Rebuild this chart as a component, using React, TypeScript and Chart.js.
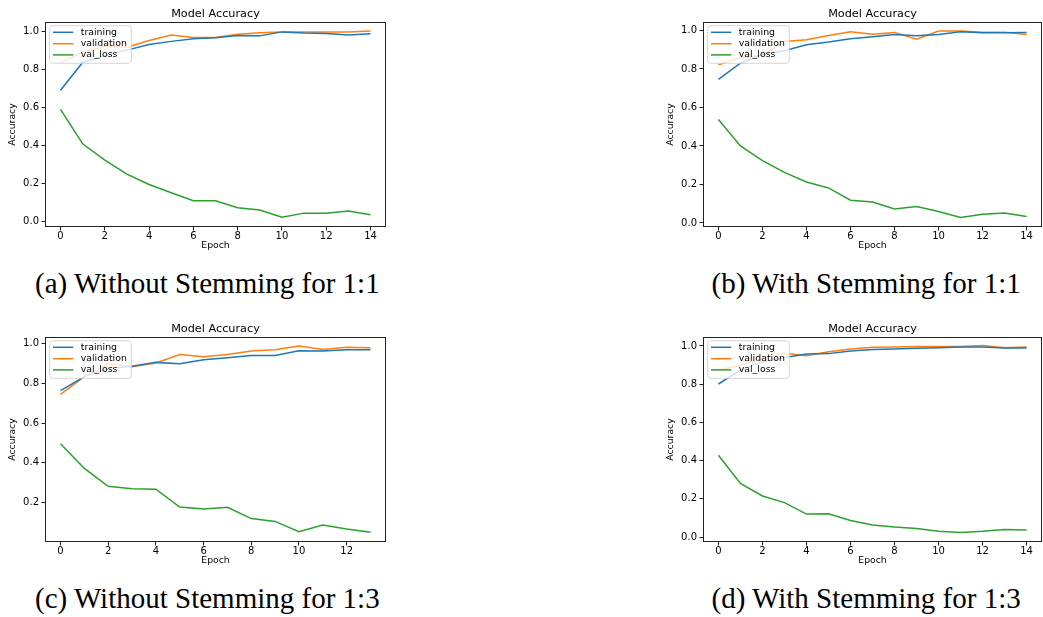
import React, { useEffect, useRef } from "react";
import { Chart, registerables } from "chart.js";

Chart.register(...registerables);

// ---------- data ----------
const epochs15 = [0, 1, 2, 3, 4, 5, 6, 7, 8, 9, 10, 11, 12, 13, 14];
const epochs14 = [0, 1, 2, 3, 4, 5, 6, 7, 8, 9, 10, 11, 12, 13];

const xTicks15 = [0, 2, 4, 6, 8, 10, 12, 14];
const xTicks14 = [0, 2, 4, 6, 8, 10, 12];
const yTicksFull = [0, 0.2, 0.4, 0.6, 0.8, 1.0];
const yTicksC = [0.2, 0.4, 0.6, 0.8, 1.0];

const seriesNames = ["training", "validation", "val_loss"];
const seriesColors = ["#1f77b4", "#ff7f0e", "#2ca02c"];

const trainA = [0.689, 0.835, 0.87, 0.9, 0.93, 0.946, 0.96, 0.965, 0.977, 0.975, 0.996, 0.99, 0.988, 0.98, 0.986];
const valA = [0.837, 0.888, 0.92, 0.915, 0.951, 0.979, 0.967, 0.967, 0.984, 0.991, 0.996, 0.995, 0.996, 0.995, 1.0];
const lossA = [0.588, 0.407, 0.321, 0.247, 0.193, 0.149, 0.107, 0.107, 0.07, 0.058, 0.021, 0.042, 0.042, 0.053, 0.033];

const trainB = [0.746, 0.83, 0.875, 0.895, 0.926, 0.94, 0.957, 0.967, 0.979, 0.972, 0.979, 0.993, 0.988, 0.988, 0.99];
const valB = [0.822, 0.86, 0.87, 0.943, 0.952, 0.974, 0.993, 0.981, 0.99, 0.955, 0.997, 0.997, 0.991, 0.991, 0.979];
const lossB = [0.538, 0.4, 0.324, 0.263, 0.213, 0.182, 0.118, 0.109, 0.073, 0.085, 0.059, 0.029, 0.045, 0.052, 0.033];

const trainC = [0.763, 0.834, 0.876, 0.887, 0.906, 0.899, 0.919, 0.929, 0.941, 0.941, 0.965, 0.963, 0.97, 0.97];
const valC = [0.745, 0.834, 0.899, 0.884, 0.903, 0.946, 0.934, 0.946, 0.963, 0.97, 0.988, 0.971, 0.982, 0.98];
const lossC = [0.496, 0.371, 0.281, 0.269, 0.266, 0.176, 0.166, 0.175, 0.118, 0.104, 0.052, 0.086, 0.066, 0.049];

const trainD = [0.801, 0.874, 0.918, 0.94, 0.958, 0.96, 0.974, 0.981, 0.984, 0.988, 0.991, 0.995, 0.995, 0.99, 0.99];
const valD = [0.874, 0.899, 0.936, 0.962, 0.949, 0.97, 0.984, 0.993, 0.995, 0.997, 0.997, 0.997, 1.002, 0.991, 0.995];
const lossD = [0.428, 0.281, 0.215, 0.18, 0.12, 0.122, 0.087, 0.063, 0.052, 0.045, 0.03, 0.024, 0.03, 0.04, 0.037];

const captions = [
  "(a) Without Stemming for 1:1",
  "(b) With Stemming for 1:1",
  "(c) Without Stemming for 1:3",
  "(d) With Stemming for 1:3",
];

const chartTitle = "Model Accuracy";
const xTitle = "Epoch";
const yTitle = "Accuracy";

// ---------- panel layout ----------
type Panel = {
  left: number;
  top: number;
  width: number;
  height: number;
  padRight: number;
  epochs: number[];
  series: number[][];
  xTicks: number[];
  yTicks: number[];
  xMin: number;
  xMax: number;
  yMin: number;
  yMax: number;
  caption: string;
  capLeft: number;
  capTop: number;
};

const panels: Panel[] = [
  { left: 0, top: 0, width: 388, height: 260, padRight: 2, epochs: epochs15, series: [trainA, valA, lossA], xTicks: xTicks15, yTicks: yTicksFull, xMin: -0.7, xMax: 14.7, yMin: -0.031, yMax: 1.048, caption: captions[0], capLeft: 35, capTop: 269 },
  { left: 658, top: 0, width: 385, height: 260, padRight: 1, epochs: epochs15, series: [trainB, valB, lossB], xTicks: xTicks15, yTicks: yTicksFull, xMin: -0.7, xMax: 14.7, yMin: -0.021, yMax: 1.044, caption: captions[1], capLeft: 711.5, capTop: 269 },
  { left: 0, top: 315, width: 388, height: 260, padRight: 2, epochs: epochs14, series: [trainC, valC, lossC], xTicks: xTicks14, yTicks: yTicksC, xMin: -0.65, xMax: 13.65, yMin: 0.0, yMax: 1.034, caption: captions[2], capLeft: 35, capTop: 584 },
  { left: 658, top: 315, width: 385, height: 260, padRight: 1, epochs: epochs15, series: [trainD, valD, lossD], xTicks: xTicks15, yTicks: yTicksFull, xMin: -0.7, xMax: 14.7, yMin: -0.026, yMax: 1.047, caption: captions[3], capLeft: 711.5, capTop: 584 },
];

const FONT = "'DejaVu Sans', sans-serif";

// frame (all four spines) drawn over the plot
const framePlugin = {
  id: "mplFrame",
  afterDraw(chart: any) {
    const { ctx, chartArea: ca } = chart;
    ctx.save();
    ctx.strokeStyle = "#222";
    ctx.lineWidth = 1;
    ctx.strokeRect(Math.round(ca.left) + 0.5, Math.round(ca.top) + 0.5, Math.round(ca.right - ca.left) - 1, Math.round(ca.bottom - ca.top) - 1);
    ctx.restore();
  },
};

// matplotlib-style legend inside the axes, upper left
const legendPlugin = {
  id: "mplLegend",
  afterDatasetsDraw(chart: any) {
    const { ctx, chartArea: ca } = chart;
    const bx = ca.left + 4.7;
    const by = ca.top + 3.7;
    const bw = 81.6;
    const bh = 37.6;
    const r = 3;
    ctx.save();
    ctx.beginPath();
    ctx.moveTo(bx + r, by);
    ctx.lineTo(bx + bw - r, by);
    ctx.quadraticCurveTo(bx + bw, by, bx + bw, by + r);
    ctx.lineTo(bx + bw, by + bh - r);
    ctx.quadraticCurveTo(bx + bw, by + bh, bx + bw - r, by + bh);
    ctx.lineTo(bx + r, by + bh);
    ctx.quadraticCurveTo(bx, by + bh, bx, by + bh - r);
    ctx.lineTo(bx, by + r);
    ctx.quadraticCurveTo(bx, by, bx + r, by);
    ctx.closePath();
    ctx.fillStyle = "rgba(255,255,255,0.8)";
    ctx.fill();
    ctx.strokeStyle = "rgba(204,204,204,0.8)";
    ctx.lineWidth = 1;
    ctx.stroke();
    const rows = [6.6, 18, 29.2];
    chart.data.datasets.forEach((ds: any, i: number) => {
      const y = by + rows[i];
      ctx.beginPath();
      ctx.strokeStyle = ds.borderColor;
      ctx.lineWidth = 1.5;
      ctx.moveTo(bx + 3.3, y);
      ctx.lineTo(bx + 23.6, y);
      ctx.stroke();
      ctx.fillStyle = "#000";
      ctx.font = `9.4px ${FONT}`;
      ctx.textBaseline = "middle";
      ctx.textAlign = "left";
      ctx.fillText(ds.label, bx + 31, y);
    });
    ctx.restore();
  },
};

function PanelChart({ p }: { p: Panel }) {
  const ref = useRef<HTMLCanvasElement | null>(null);
  useEffect(() => {
    if (!ref.current) return;
    const chart = new Chart(ref.current, {
      type: "line",
      data: {
        labels: p.epochs,
        datasets: p.series.map((vals, i) => ({
          label: seriesNames[i],
          data: vals.map((v, j) => ({ x: p.epochs[j], y: v })),
          borderColor: seriesColors[i],
          backgroundColor: seriesColors[i],
          borderWidth: 1.5,
          pointRadius: 0,
          tension: 0,
          fill: false,
        })),
      },
      options: {
        animation: false,
        responsive: false,
        devicePixelRatio: 1,
        events: [],
        layout: { padding: { left: 0, top: 0, right: p.padRight, bottom: 0 } },
        plugins: {
          legend: { display: false },
          tooltip: { enabled: false },
          title: {
            display: true,
            text: chartTitle,
            fullSize: false,
            color: "#000",
            font: { family: FONT, size: 11.25, weight: "normal", lineHeight: 1.2 },
            padding: { top: 7.2, bottom: 1.3 },
          },
        },
        scales: {
          x: {
            type: "linear",
            min: p.xMin,
            max: p.xMax,
            afterBuildTicks: (s: any) => {
              s.ticks = p.xTicks.map((v) => ({ value: v }));
            },
            afterFit: (s: any) => {
              s.height = 33;
            },
            border: { display: false },
            grid: { display: true, drawOnChartArea: false, drawTicks: true, tickLength: 3.5, tickWidth: 1, tickColor: "#222" },
            ticks: {
              color: "#000",
              padding: 0.5,
              maxRotation: 0,
              autoSkip: false,
              font: { family: FONT, size: 10, lineHeight: 1 },
              callback: (v: any) => String(v),
            },
            title: {
              display: true,
              text: xTitle,
              color: "#000",
              font: { family: FONT, size: 9.3, lineHeight: 1.2 },
              padding: { top: 0, bottom: 9.3 },
            },
          },
          y: {
            type: "linear",
            min: p.yMin,
            max: p.yMax,
            afterBuildTicks: (s: any) => {
              s.ticks = p.yTicks.map((v) => ({ value: v }));
            },
            afterFit: (s: any) => {
              s.width = 45;
            },
            border: { display: false },
            grid: { display: true, drawOnChartArea: false, drawTicks: true, tickLength: 3.5, tickWidth: 1, tickColor: "#222" },
            ticks: {
              color: "#000",
              padding: 2.5,
              autoSkip: false,
              font: { family: FONT, size: 10, lineHeight: 1 },
              callback: (v: any) => Number(v).toFixed(1),
            },
            title: {
              display: true,
              text: yTitle,
              color: "#000",
              font: { family: FONT, size: 9.3, lineHeight: 1.2 },
              padding: { top: 7.2, bottom: 0 },
            },
          },
        },
      },
      plugins: [legendPlugin, framePlugin],
    } as any);
    return () => chart.destroy();
  }, [p]);
  return (
    <canvas
      ref={ref}
      width={p.width}
      height={p.height}
      style={{ position: "absolute", left: p.left, top: p.top, width: p.width, height: p.height }}
    />
  );
}

export default function App() {
  return (
    <div style={{ position: "absolute", left: 0, top: 0, width: 1043, height: 617, overflow: "hidden", background: "#fff" }}>
      {panels.map((p, i) => (
        <PanelChart key={i} p={p} />
      ))}
      {panels.map((p, i) => (
        <div
          key={"c" + i}
          style={{
            position: "absolute",
            left: p.capLeft,
            top: p.capTop,
            fontFamily: "'Liberation Serif', serif",
            fontSize: 29,
            lineHeight: "29px",
            whiteSpace: "nowrap",
            color: "#000",
          }}
        >
          {p.caption}
        </div>
      ))}
    </div>
  );
}
